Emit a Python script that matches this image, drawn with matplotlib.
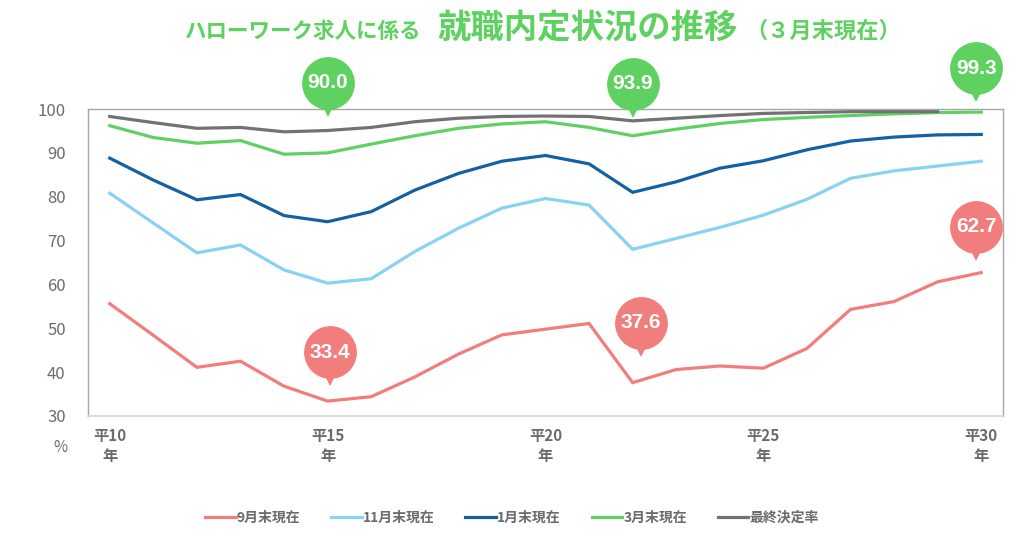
import matplotlib
matplotlib.use('Agg')
import matplotlib.pyplot as plt
import matplotlib.transforms as mtransforms
import numpy as np

plt.rcParams['font.family'] = ['Noto Sans CJK JP', 'DejaVu Sans']

YEARS = list(range(10, 31))
SERIES_NAMES = ['9月末現在', '11月末現在', '1月末現在', '3月末現在', '最終決定率']
SEP = [55.6, 48.4, 41.1, 42.5, 36.8, 33.4, 34.4, 38.9, 44.1, 48.5, 49.8,
       51.1, 37.6, 40.6, 41.4, 40.9, 45.4, 54.3, 56.1, 60.6, 62.7]
NOV = [80.8, 74.0, 67.2, 69.0, 63.3, 60.3, 61.3, 67.5, 72.8, 77.4, 79.6,
       78.1, 68.0, 70.5, 73.0, 75.8, 79.4, 84.2, 85.9, 87.0, 88.1]
JAN = [88.8, 83.8, 79.3, 80.5, 75.7, 74.3, 76.6, 81.5, 85.3, 88.1, 89.4,
       87.5, 81.0, 83.4, 86.5, 88.2, 90.7, 92.7, 93.6, 94.1, 94.2]
MAR = [96.2, 93.5, 92.2, 92.8, 89.7, 90.0, 92.0, 93.9, 95.6, 96.6, 97.1,
       95.8, 93.9, 95.4, 96.7, 97.6, 98.1, 98.5, 98.9, 99.2, 99.3]
FINAL = [98.3, 96.9, 95.6, 95.8, 94.8, 95.1, 95.8, 97.1, 97.9, 98.3, 98.4,
         98.3, 97.3, 97.9, 98.5, 99.0, 99.2, 99.4, 99.4, 99.4, np.nan]
COLORS = ['#f27d7d', '#88d2f4', '#1261a3', '#5fd160', '#727272']
TICK_YEARS = [10, 15, 20, 25, 30]

# callouts: (series index, year, bubble centre offset from the point in px)
CALLOUTS = [(3, 15, 0, 70), (3, 22, 0, 52), (3, 30, -5, 44),
            (0, 15, 2, 49), (0, 22, 8, 60), (0, 30, -5, 46)]

fig = plt.figure(figsize=(10.24, 5.47), dpi=100)
ax = fig.add_axes([0.0859, 0.2395, 0.8936, 0.5612])

data = [SEP, NOV, JAN, MAR, FINAL]
for vals, name, c in zip(data, SERIES_NAMES, COLORS):
    ax.plot(YEARS, vals, color=c, lw=2.3, label=name, solid_joinstyle='miter')

ax.set_xlim(9.5, 30.5)
ax.set_ylim(30, 100)
ax.set_yticks(range(30, 101, 10))
ax.set_xticks(TICK_YEARS)
ax.set_xticklabels(['平%d\n年' % y for y in TICK_YEARS], linespacing=1.25)
ax.tick_params(axis='both', length=0, colors='#6b6b6b', labelsize=11)
ax.tick_params(axis='y', pad=16, labelsize=12)
ax.tick_params(axis='x', pad=9)
for lab in ax.get_xticklabels():
    lab.set_fontweight('bold')
for s in ['top', 'right', 'left']:
    ax.spines[s].set_color('#a6a6a6')
    ax.spines[s].set_linewidth(1.0)
ax.spines['bottom'].set_color('#d6d6d6')
ax.spines['bottom'].set_linewidth(1.2)

fig.text(60 / 1024, 1 - 447 / 547, '%', color='#6b6b6b', fontsize=11,
         ha='center', va='center')

# speech-bubble callouts
for si, yr, dx, dy in CALLOUTS:
    val = data[si][YEARS.index(yr)]
    c = COLORS[si]
    tr_c = mtransforms.offset_copy(ax.transData, fig=fig, x=dx * 0.72, y=dy * 0.72, units='points')
    tr_t = mtransforms.offset_copy(ax.transData, fig=fig, x=dx * 0.72, y=(dy - 26) * 0.72, units='points')
    ax.plot([yr], [val], marker='v', markersize=11, color=c, transform=tr_t,
            clip_on=False, zorder=5, markeredgewidth=0)
    ax.plot([yr], [val], marker='o', markersize=38, color=c, transform=tr_c,
            clip_on=False, zorder=6, markeredgewidth=0)
    ax.text(yr, val, '%.1f' % val, transform=tr_c, color='white', fontsize=15,
            fontweight='bold', ha='center', va='center', zorder=7,
            family=['Liberation Sans', 'DejaVu Sans'])

# title
green = '#5fd160'
fig.text(185 / 1024, 1 - 31 / 547, 'ハローワーク求人に係る', color=green,
         fontsize=15.5, fontweight='bold', ha='left', va='center')
fig.text(437 / 1024, 1 - 29 / 547, '就職内定状況の推移', color=green,
         fontsize=24, fontweight='bold', ha='left', va='center')
fig.text(745 / 1024, 1 - 31 / 547, '（３月末現在）', color=green,
         fontsize=16, fontweight='bold', ha='left', va='center')

leg = fig.legend(loc='center', bbox_to_anchor=(0.5, 1 - 518 / 547), ncol=5,
                 frameon=False, fontsize=10, handlelength=2.2, handletextpad=0.1,
                 columnspacing=2.2)
for t in leg.get_texts():
    t.set_color('#6b6b6b')
    t.set_fontweight('bold')

fig.savefig('out.png', dpi=100)
